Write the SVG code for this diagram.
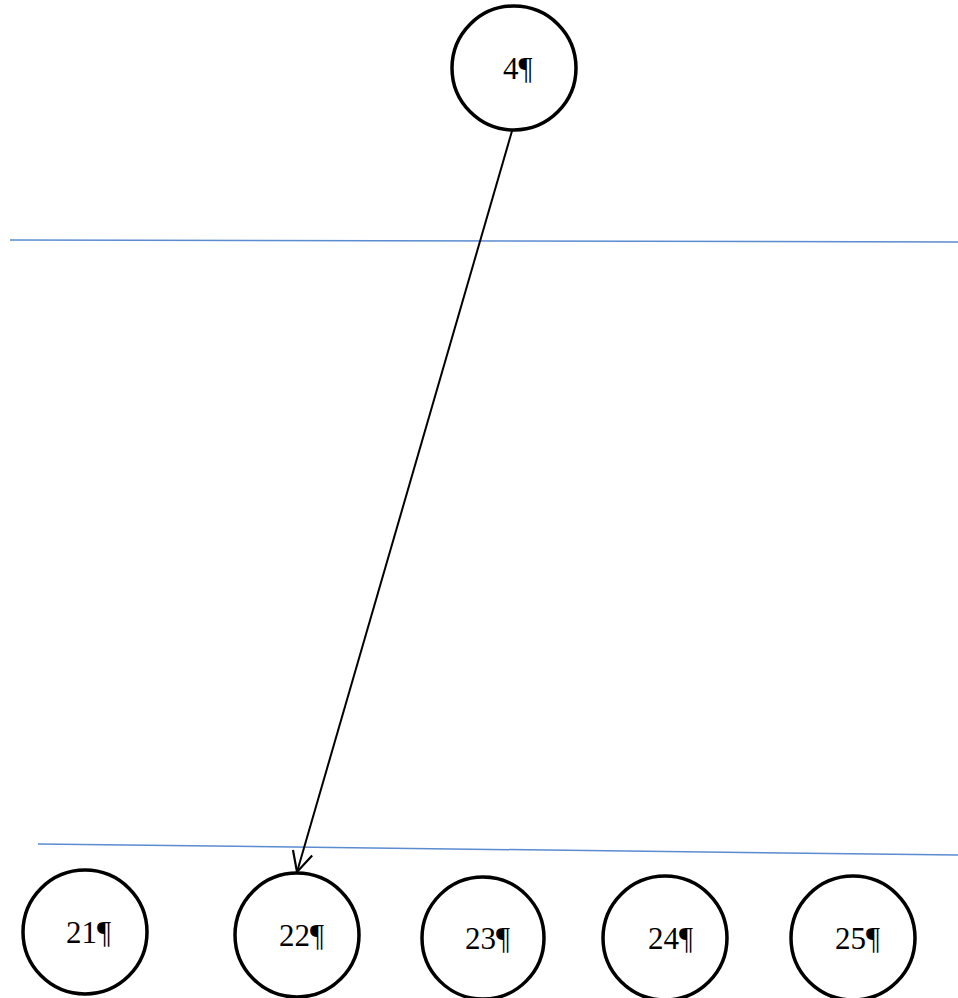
<svg xmlns="http://www.w3.org/2000/svg" width="958" height="998" viewBox="0 0 958 998">
<defs>
<style>
.node circle{fill:#fff;stroke:#000;stroke-width:3.5}
.node text{font-family:"Liberation Serif","Times New Roman",serif;font-size:31px;fill:#000}
.sep{stroke:#5b8bd0;stroke-width:1.5;fill:none}
.edge{stroke:#000;stroke-width:2;fill:none}
</style>
<marker id="arr" viewBox="0 0 24 24" refX="22" refY="12" markerWidth="24" markerHeight="24" markerUnits="userSpaceOnUse" orient="auto">
<path d="M2,2 L22,12 L2,22" fill="none" stroke="#000" stroke-width="2.2"/>
</marker>
</defs>
<rect width="958" height="998" fill="#fff"/>
<line class="sep" x1="10" y1="240" x2="958" y2="242"/>
<line class="sep" x1="38" y1="844" x2="958" y2="855"/>
<g id="connectors">
<line class="edge" x1="512" y1="131" x2="297" y2="872" marker-end="url(#arr)"/>
</g>
<g id="n4" class="node"><circle cx="514" cy="68" r="62"/><text x="503" y="79">4¶</text></g>
<g id="n21" class="node"><circle cx="85" cy="932" r="62"/><text x="66" y="943">21¶</text></g>
<g id="n22" class="node"><circle cx="297" cy="935" r="62"/><text x="279" y="946">22¶</text></g>
<g id="n23" class="node"><circle cx="483" cy="938" r="61"/><text x="465" y="949">23¶</text></g>
<g id="n24" class="node"><circle cx="665" cy="938" r="62"/><text x="648" y="949">24¶</text></g>
<g id="n25" class="node"><circle cx="853" cy="938" r="62"/><text x="835" y="949">25¶</text></g>
</svg>
